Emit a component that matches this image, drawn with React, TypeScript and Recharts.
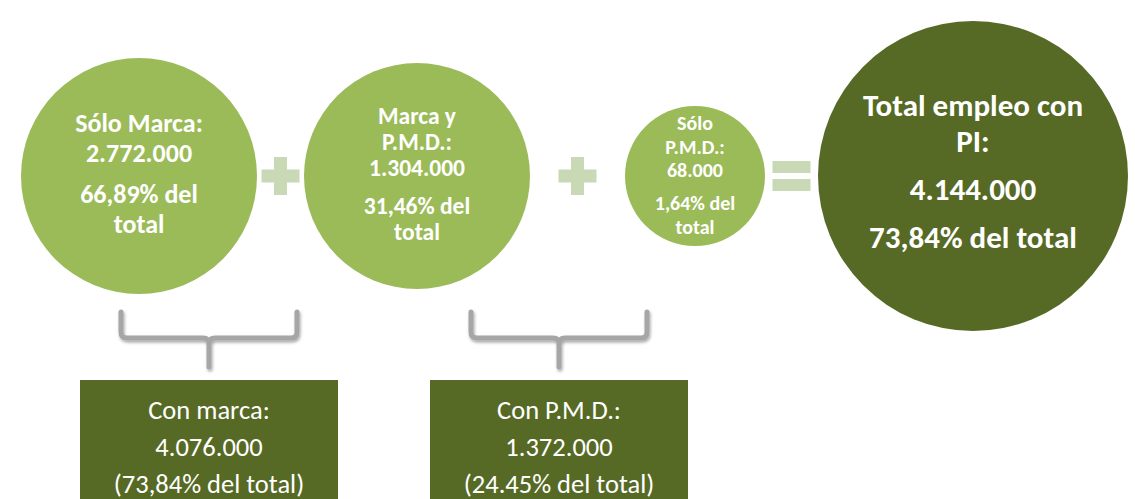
import React from 'react';
import { ScatterChart, Scatter, XAxis, YAxis, BarChart, Bar } from 'recharts';

const W = 1135;
const H = 499;

// círculos (empleo por tipo de derecho de PI)
const circleTitles = [['Sólo Marca:'], ['Marca y', 'P.M.D.:'], ['Sólo', 'P.M.D.:'], ['Total empleo con', 'PI:']];
const circleValues = [2772000, 1304000, 68000, 4144000];
const circleShares = [66.89, 31.46, 1.64, 73.84];
// signos entre círculos
const operators = ['+', '+', '='];

// cajas de abajo
const boxTitles = ['Con marca:', 'Con P.M.D.:'];
const boxValues = [4076000, 1372000];
const boxShares = ['73,84%', '24.45%'];

const LIGHT = '#9bbb59';
const DARK = '#576a25';
const OP = '#c9d8b5';
const GREY = '#a6a6a6';
const FONT = "Carlito, Lato, 'Open Sans', sans-serif";

const CIRCLE_STYLE = [
  { r: 118, fill: LIGHT, font: 26, lead: 30, gap: 41, split: false },
  { r: 113, fill: LIGHT, font: 23.5, lead: 26, gap: 38, split: false },
  { r: 70, fill: LIGHT, font: 20, lead: 23.5, gap: 33, split: false },
  { r: 155, fill: DARK, font: 31, lead: 36, gap: 48, split: true },
];

const fmtNum = (n: number) => String(n).replace(/\B(?=(\d{3})+(?!\d))/g, '.');
const fmtPct = (n: number) => n.toFixed(2).replace('.', ',');

const circleData = circleTitles.map((t, i) => ({
  slot: i,
  row: 0,
  title: t,
  value: circleValues[i],
  share: circleShares[i],
}));

// cada signo va entre el círculo i y el i+1
const opData = operators.map((op, i) => ({ slot: i + 0.5, row: 0, op, prev: i }));

const boxData = boxTitles.map((t, i) => ({ name: t, value: boxValues[i], share: boxShares[i] }));

const CircleShape = (props: any) => {
  const { cx, cy, payload } = props;
  const st = CIRCLE_STYLE[payload.slot];
  const blocks: string[][] = st.split
    ? [payload.title, [fmtNum(payload.value)], [`${fmtPct(payload.share)}% del total`]]
    : [[...payload.title, fmtNum(payload.value)], [`${fmtPct(payload.share)}% del`, 'total']];

  let span = 0;
  blocks.forEach((b, bi) => {
    span += (b.length - 1) * st.lead;
    if (bi > 0) span += st.gap;
  });
  let y = cy + 6 - span / 2;
  const lines: { t: string; y: number }[] = [];
  blocks.forEach((b, bi) => {
    if (bi > 0) y += st.gap;
    b.forEach((t, li) => {
      if (li > 0) y += st.lead;
      lines.push({ t, y });
    });
  });

  return (
    <g>
      <circle cx={cx} cy={cy} r={st.r} fill={st.fill} />
      {lines.map((l, i) => (
        <text key={i} x={cx} y={l.y} textAnchor="middle" fill="#fff"
          fontWeight={700} fontSize={st.font} fontFamily={FONT}>
          {l.t}
        </text>
      ))}
    </g>
  );
};

// centrado en el hueco entre los bordes de los dos círculos
const OperatorShape = (props: any) => {
  const { cx, cy, payload } = props;
  const x = cx + (CIRCLE_STYLE[payload.prev].r - CIRCLE_STYLE[payload.prev + 1].r) / 2;
  if (payload.op === '=') {
    return (
      <g fill={OP}>
        <rect x={x - 19} y={cy - 15} width={38} height={12} />
        <rect x={x - 19} y={cy + 3} width={38} height={12} />
      </g>
    );
  }
  return (
    <g fill={OP}>
      <rect x={x - 19} y={cy - 6.5} width={38} height={13} />
      <rect x={x - 6.5} y={cy - 19} width={13} height={38} />
    </g>
  );
};

const BoxShape = (props: any) => {
  const { x, width, background, payload, index } = props;
  const top = background.y;
  const c = x + width / 2;
  const hw = 88;
  const T = top - 68;
  const M = top - 42;
  const S = top - 13;
  const id = `brShadow${index}`;
  return (
    <g>
      <defs>
        <filter id={id} x="-20%" y="-50%" width="140%" height="200%">
          <feDropShadow dx={1} dy={2} stdDeviation={1.8} floodColor="#000" floodOpacity={0.35} />
        </filter>
      </defs>
      <path
        d={`M${c - hw},${T} V${M - 6} Q${c - hw},${M} ${c - hw + 6},${M} H${c - 6} Q${c},${M} ${c},${M + 6} V${S}
            M${c + hw},${T} V${M - 6} Q${c + hw},${M} ${c + hw - 6},${M} H${c + 6} Q${c},${M} ${c},${M + 6}`}
        fill="none" stroke={GREY} strokeWidth={5} strokeLinecap="round" strokeLinejoin="round"
        filter={`url(#${id})`}
      />
      <rect x={x} y={top} width={width} height={background.height + 20} fill={DARK} />
      {[payload.name, fmtNum(payload.value), `(${payload.share} del total)`].map((t, i) => (
        <text key={i} x={c} y={top + 39 + i * 37} textAnchor="middle" fill="#fff"
          fontSize={26.5} fontFamily={FONT}>
          {t}
        </text>
      ))}
    </g>
  );
};

export default function App() {
  return (
    <div style={{ position: 'absolute', left: 0, top: 0, width: W, height: H, overflow: 'hidden', background: '#fff' }}>
      <div style={{ position: 'absolute', left: 0, top: 0 }}>
        <ScatterChart width={W} height={H} margin={{ top: 0, right: 23, bottom: 147, left: 0 }}>
          <XAxis type="number" dataKey="slot" domain={[-0.5, 3.5]} hide />
          <YAxis type="number" dataKey="row" domain={[-1, 1]} hide />
          <Scatter data={opData} shape={OperatorShape} isAnimationActive={false} />
          <Scatter data={circleData} shape={CircleShape} isAnimationActive={false} />
        </ScatterChart>
      </div>
      <div style={{ position: 'absolute', left: 0, top: 0 }}>
        <BarChart width={W} height={H} data={boxData} margin={{ top: 380, right: 401, bottom: 0, left: 34 }}>
          <XAxis dataKey="name" hide />
          <YAxis hide />
          <Bar dataKey="value" barSize={258} shape={BoxShape} isAnimationActive={false} />
        </BarChart>
      </div>
    </div>
  );
}
